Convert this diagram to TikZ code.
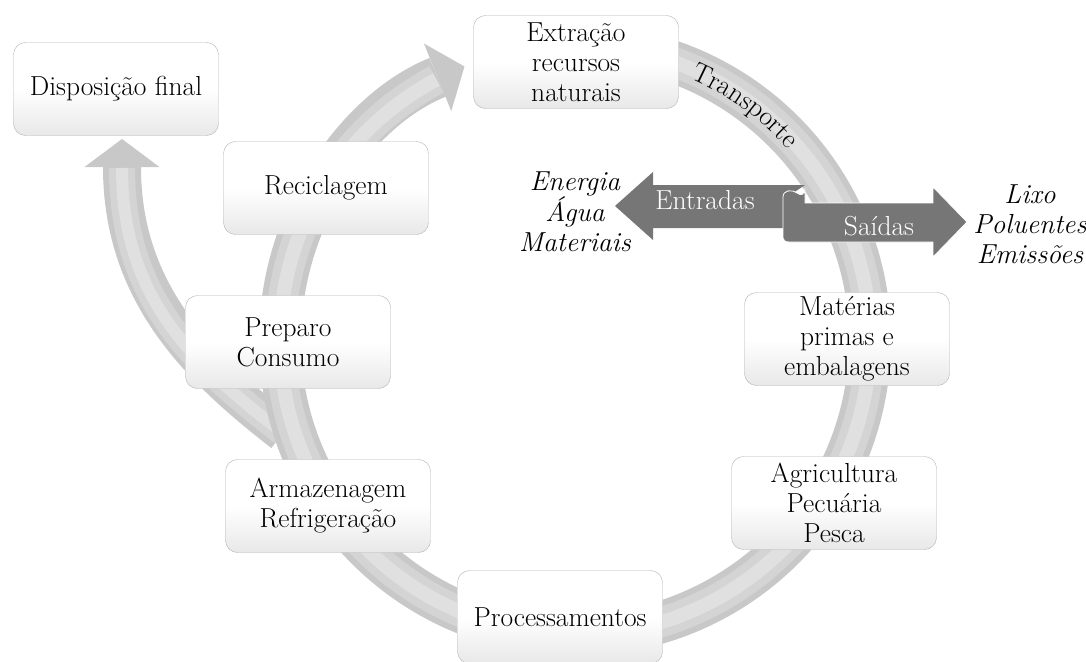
\documentclass[tikz,border=0pt]{standalone}
\usetikzlibrary{arrows.meta}
\usetikzlibrary{decorations.text}
\definecolor{ringgray}{RGB}{200,200,200}
\definecolor{ringmid}{RGB}{212,212,212}
\definecolor{ringlight}{RGB}{224,224,224}
\definecolor{flowgray}{RGB}{118,118,118}
\newcommand{\cyclefont}{\fontsize{27.5}{30}\selectfont}
\tikzset{x=1pt, y=-1pt, % pixel units, y going down
stage/.style={ % Sets the look of each box
draw=gray!60,
rounded corners=12pt,
top color=white, bottom color=gray!18, middle color=white,
minimum width=205pt, minimum height=93pt,
align=center, inner sep=2pt,
font=\cyclefont},
ringarrow/.style={ % Big cycle arrow
ringgray, line width=42pt,
-{Triangle[length=29pt, width=73pt, line width=0pt]}},
dispoarrow/.style={
ringgray, line width=38pt,
-{Triangle[length=28pt, width=75pt, line width=0pt]}},
sidetext/.style={align=center, font=\cyclefont\itshape},
flowlabel/.style={text=white, font=\cyclefont}}

\begin{document}
\begin{tikzpicture}
\useasboundingbox (0,0) rectangle (1086,661);
\coordinate (hub) at (575,340);
\coordinate (dtail) at (283,433);
\coordinate (dtip) at (122,139);
% arrow to final disposal
\draw[dispoarrow] (dtail) .. controls (195,365) and (122,290) .. (dtip);
\draw[ringmid, line width=26pt] (dtail) .. controls (195,365) and (122,300) .. (122,168);
\draw[ringlight, line width=12pt] (dtail) .. controls (195,365) and (122,300) .. (122,168);
% the cycle
\draw[ringarrow] (hub) ++(-85:295) arc[start angle=-85, end angle=248, radius=295];
\draw[ringmid, line width=30pt] (hub) ++(-85:295) arc[start angle=-85, end angle=242, radius=295];
\draw[ringlight, line width=14pt] (hub) ++(-85:295) arc[start angle=-85, end angle=242, radius=295];
\path[decorate, decoration={text along path, text align=center,
  text={|\cyclefont|Transporte}}]
  (hub) ++(-73:286) arc[start angle=-73, end angle=-35, radius=286];
% inputs and outputs
\fill[flowgray] (805,185) -- (653,185) -- (653,172) -- (615,206) -- (653,240)
  -- (653,228) -- (790,228) -- (790,195) -- cycle;
\filldraw[flowgray, draw=white, line width=.8pt] (783,238) -- (783,197)
  .. controls (783,190) and (792,189) .. (797,193)
  .. controls (801,196) and (805,195) .. (805,188) -- (805,203)
  -- (933,203) -- (933,187) -- (967,222) -- (933,257) -- (933,242)
  -- (789,242) .. controls (785,242) and (783,240) .. (783,238) -- cycle;
\node[flowlabel] (entradas) at (705,200) {Entradas};
\node[flowlabel] (saidas) at (879,226) {Saídas};
\node[sidetext] (inputs) at (575,212) {Energia\\Água\\Materiais};
\node[sidetext] (outputs) at (1030,224) {Lixo\\Poluentes\\Emissões};
% boxes
\node[stage] (disp) at (116,89) {Disposição final};
\node[stage] (extr) at (576,62) {Extração\\recursos\\naturais};
\node[stage] (mat) at (847,339) {Matérias\\primas e\\embalagens};
\node[stage] (agri) at (834,503) {Agricultura\\Pecuária\\Pesca};
\node[stage] (proc) at (560,617) {Processamentos};
\node[stage] (arm) at (328,506) {Armazenagem\\Refrigeração};
\node[stage] (prep) at (288,342) {Preparo\\Consumo};
\node[stage] (recic) at (326,188) {Reciclagem};
\end{tikzpicture}
\end{document}
